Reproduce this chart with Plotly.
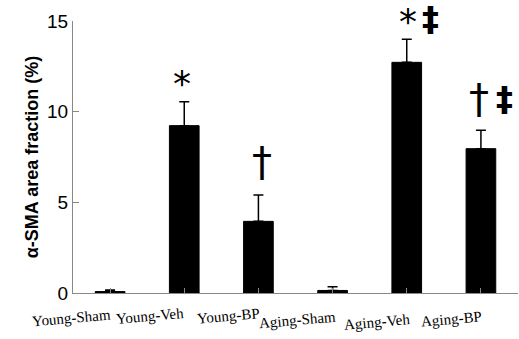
import plotly.graph_objects as go

categories = ["Young-Sham", "Young-Veh", "Young-BP", "Aging-Sham", "Aging-Veh", "Aging-BP"]
values = [0.08, 9.23, 3.95, 0.14, 12.72, 7.96]
errors = [0.08, 1.32, 1.45, 0.21, 1.28, 1.01]
y_ticks = [0, 5, 10, 15]

# significance marks: (category index, symbol, x offset px, y value, extra y shift px)
marks = [
    (1, "*", -2, 11.75, 4),
    (2, "†", 4, 7.2, 0),
    (4, "*", 1, 15.0, 8),
    (4, "‡", 24, 15.0, 2),
    (5, "†", -2, 10.6, 2),
    (5, "‡", 24, 10.6, 2),
]
label_y = [318, 316, 316, 320, 322, 319]
label_x = [71, 150, 228, 297, 377, 451]

fig = go.Figure()
fig.add_trace(go.Bar(
    x=list(range(len(categories))), y=values,
    width=0.4,
    marker=dict(color="black", line=dict(color="black", width=1)),
    error_y=dict(type="data", array=errors, arrayminus=[0]*len(errors),
                 symmetric=False, color="black", thickness=1.5, width=5),
))

L, R, T, B = 73, 1, 21, 46
W, H = 519, 339
pw = W - L - R
ph = H - T - B

annotations = []
for i, (lab, lx, ly) in enumerate(zip(categories, label_x, label_y)):
    annotations.append(dict(
        x=(lx - L) / pw, y=(H - ly - B) / ph, xref="paper", yref="paper",
        text=lab, showarrow=False, textangle=-5,
        font=dict(family="Liberation Serif", size=15, color="black"),
        xanchor="center", yanchor="middle"))

for ci, sym, dx, yv, ys in marks:
    if sym == "*":
        font = dict(family="DejaVu Sans", size=36, color="black")
        yshift = -8
        txt = "*"
    elif sym == "†":
        font = dict(family="DejaVu Sans", size=40, color="black")
        yshift = 0
        txt = sym
    else:
        font = dict(family="DejaVu Sans", size=34, color="black")
        yshift = 0
        txt = "<b>%s</b>" % sym
    annotations.append(dict(
        x=ci, y=yv, xref="x", yref="y", text=txt,
        showarrow=False,
        xshift=dx, yshift=yshift + ys, font=font, xanchor="center", yanchor="middle"))

fig.update_layout(
    width=W, height=H,
    margin=dict(l=L, r=R, t=T, b=B, pad=0),
    paper_bgcolor="white", plot_bgcolor="white",
    showlegend=False,
    annotations=annotations,
    xaxis=dict(
        range=[-0.5, 5.5], tickmode="array", tickvals=list(range(6)),
        ticktext=[""]*6, tickson="boundaries", ticks="inside", ticklen=5,
        tickcolor="#888888", showline=True, linecolor="#888888", linewidth=1,
        showgrid=False, zeroline=False, fixedrange=True,
    ),
    yaxis=dict(
        range=[0, 15], tickvals=y_ticks, ticks="inside", ticklen=6,
        tickcolor="#888888", showline=True, linecolor="#888888", linewidth=1,
        showgrid=False, zeroline=False,
        tickfont=dict(family="Liberation Sans", size=19, color="black"),
        title=dict(text="<b>α-SMA area fraction (%)</b>",
                   font=dict(family="Liberation Sans", size=18, color="black"),
                   standoff=3),
    ),
)

fig.write_html("out.html")
